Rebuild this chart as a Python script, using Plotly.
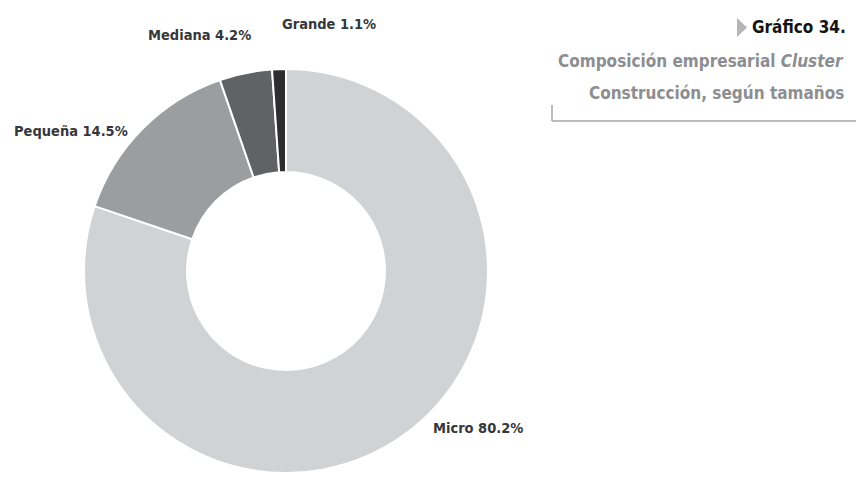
import plotly.graph_objects as go

# ---- data ----
categories = ["Micro", "Pequeña", "Mediana", "Grande"]
shares = [80.2, 14.5, 4.2, 1.1]
slice_colors = ["#d1d2d4", "#9c9d9f", "#616264", "#2e2e30"]

title_main = "Gráfico 34."
subtitle_1 = "Composición empresarial <i>Cluster</i>"
subtitle_2 = "Construcción, según tamaños"

W, H = 856, 493
FONT = "DejaVu Sans Condensed, DejaVu Sans, sans-serif"
CS = "font-stretch:condensed"


def px_x(v):
    return v / W


def px_y(v):
    return 1 - v / H


# pie geometry (pixels)
cx, cy, d = 286, 271, 404

fig = go.Figure(
    go.Pie(
        labels=categories,
        values=shares,
        sort=False,
        direction="clockwise",
        rotation=0,
        hole=0.49,
        marker=dict(colors=slice_colors, line=dict(color="white", width=2)),
        textinfo="none",
        hoverinfo="label+percent",
        showlegend=False,
        domain=dict(
            x=[px_x(cx - d / 2), px_x(cx + d / 2)],
            y=[px_y(cy + d / 2), px_y(cy - d / 2)],
        ),
    )
)

# slice labels (pixel centres)
label_pos = {"Micro": (478, 428), "Pequeña": (71, 131), "Mediana": (199, 35), "Grande": (329, 24)}
annotations = []
for cat, val in zip(categories, shares):
    px, py = label_pos[cat]
    annotations.append(dict(
        x=px_x(px), y=px_y(py), xref="paper", yref="paper",
        text=f"<span style='{CS}'><b>{cat} {val}%</b></span>", showarrow=False,
        xanchor="center", yanchor="middle",
        font=dict(family=FONT, size=14.5, color="#35373b"),
    ))

# title block (right aligned)
annotations.append(dict(
    x=px_x(848), y=px_y(27), xref="paper", yref="paper",
    text=f"<span style='{CS}'><b>{title_main}</b></span>",
    showarrow=False, xanchor="right", yanchor="middle",
    font=dict(family=FONT, size=17, color="#141414"),
))
annotations.append(dict(
    x=px_x(846), y=px_y(61), xref="paper", yref="paper",
    text=f"<span style='{CS}'><b>{subtitle_1}</b></span>", showarrow=False,
    xanchor="right", yanchor="middle",
    font=dict(family=FONT, size=17, color="#8c8e91"),
))
annotations.append(dict(
    x=px_x(846), y=px_y(93), xref="paper", yref="paper",
    text=f"<span style='{CS}'><b>{subtitle_2}</b></span>", showarrow=False,
    xanchor="right", yanchor="middle",
    font=dict(family=FONT, size=17, color="#8c8e91"),
))

shapes = [
    # small grey pointer before the chart number
    dict(type="path", xref="paper", yref="paper",
         path=f"M {px_x(737)},{px_y(18)} L {px_x(737)},{px_y(37)} L {px_x(747)},{px_y(27.5)} Z",
         fillcolor="#b5b5b5", line=dict(width=0)),
    dict(type="line", xref="paper", yref="paper",
         x0=px_x(552), x1=1, y0=px_y(121), y1=px_y(121),
         line=dict(color="#a6a6a6", width=1.5)),
    dict(type="line", xref="paper", yref="paper",
         x0=px_x(552), x1=px_x(552), y0=px_y(105), y1=px_y(121),
         line=dict(color="#a6a6a6", width=1.5)),
]

fig.update_layout(
    width=W, height=H,
    margin=dict(l=0, r=0, t=0, b=0),
    paper_bgcolor="white", plot_bgcolor="white",
    annotations=annotations, shapes=shapes,
)

fig.write_html(
    "out.html",
    config={"displayModeBar": False},
    post_script="document.body.style.margin='0px';document.body.style.overflow='hidden';",
)
